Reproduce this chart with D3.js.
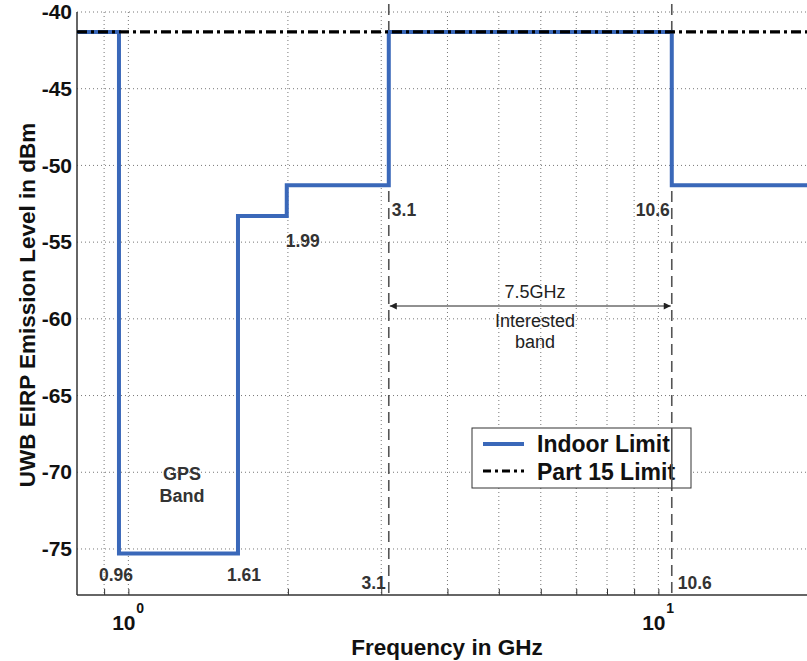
<!DOCTYPE html>
<html>
<head>
<meta charset="utf-8">
<script src="https://cdn.jsdelivr.net/npm/d3@7"></script>
<style>
  body { margin: 0; background: #fff; }
  svg { display: block; }
  text { font-family: "Liberation Sans", Arial, sans-serif; }
</style>
</head>
<body>
<svg id="chart" width="807" height="661"></svg>
<script>
// ---- data ----
const indoorFreq  = [0.8, 0.96, 1.61, 1.99, 3.1, 10.6, 20];
const indoorLevel = [-41.3, -75.3, -53.3, -51.3, -41.3, -51.3, -51.3];
const part15Freq  = [0.8, 20];
const part15Level = [-41.3, -41.3];
const markerFreqs = [3.1, 10.6];
const yTicks = [-40, -45, -50, -55, -60, -65, -70, -75];
const xMinorTicks = [0.8, 0.9, 1, 2, 3, 4, 5, 6, 7, 8, 9, 10, 20];
const xMajorTicks = [1, 10];
const seriesNames = ["Indoor Limit", "Part 15 Limit"];

(function () {
const svg = d3.select("#chart");
const W = 807, H = 661;
const mLeft = 77, mTop = 12, mBottom = 595;
const decade = 530;

const x = d3.scaleLog().domain([0.8, 20])
  .range([mLeft, mLeft + Math.log10(20 / 0.8) * decade]);
const y = d3.scaleLinear().domain([-78, -40]).range([mBottom, mTop]);

const defs = svg.append("defs");
defs.append("clipPath").attr("id", "clip")
  .append("rect").attr("x", mLeft).attr("y", 0).attr("width", W - mLeft).attr("height", mBottom);

const plot = svg.append("g");
// grid
plot.append("g").selectAll("line").data(yTicks).join("line")
  .attr("x1", mLeft).attr("x2", W)
  .attr("y1", d => y(d)).attr("y2", d => y(d))
  .attr("stroke", "#777").attr("stroke-width", 1).attr("stroke-dasharray", "1,3");
plot.append("g").selectAll("line").data(xMinorTicks.filter(d => x(d) > mLeft + 1)).join("line")
  .attr("x1", d => x(d)).attr("x2", d => x(d))
  .attr("y1", mTop).attr("y2", mBottom)
  .attr("stroke", "#777").attr("stroke-width", 1).attr("stroke-dasharray", "1,3");

// axes
const xAxis = d3.axisBottom(x).tickValues(xMinorTicks.filter(d => x(d) > mLeft + 1))
  .tickSize(-6).tickFormat("");
const gx = svg.append("g").attr("transform", `translate(0,${mBottom})`).call(xAxis);
gx.select(".domain").attr("d", `M${mLeft},0H${W}`).attr("stroke", "#333").attr("stroke-width", 1.5);
gx.selectAll(".tick line").attr("stroke", "#333");

const yAxis = d3.axisLeft(y).tickValues(yTicks).tickSize(0).tickPadding(6)
  .tickFormat(d => String(d));
const gy = svg.append("g").attr("transform", `translate(${mLeft},0)`).call(yAxis);
gy.select(".domain").attr("d", `M0,${mTop}V${mBottom}`).attr("stroke", "#333").attr("stroke-width", 1.5);
gy.selectAll(".tick text")
  .attr("font-size", 21).attr("font-weight", "bold").attr("fill", "#111")
  .attr("x", -5);

// x major labels 10^n
xMajorTicks.forEach(v => {
  svg.append("text").attr("x", x(v) - 4.5).attr("y", 630)
    .attr("text-anchor", "middle").attr("font-size", 21).attr("font-weight", "bold").attr("fill", "#111")
    .text("10");
  svg.append("text").attr("x", x(v) + 8).attr("y", 613)
    .attr("font-size", 14).attr("font-weight", "bold").attr("fill", "#111")
    .text(String(Math.round(Math.log10(v))));
});

// dashed markers
svg.append("g").selectAll("line").data(markerFreqs).join("line")
  .attr("x1", d => x(d)).attr("x2", d => x(d))
  .attr("y1", 4).attr("y2", mBottom)
  .attr("stroke", "#555").attr("stroke-width", 1.6).attr("stroke-dasharray", "11,6");

// series
const line = d3.line().x(d => x(d[0])).y(d => y(d[1])).curve(d3.curveStepAfter);
const g = svg.append("g").attr("clip-path", "url(#clip)");
g.append("path").datum(indoorFreq.map((f, i) => [f, indoorLevel[i]]))
  .attr("d", line).attr("fill", "none").attr("stroke", "#3a68b9").attr("stroke-width", 4);
g.append("path").datum(part15Freq.map((f, i) => [f, part15Level[i]]))
  .attr("d", d3.line().x(d => x(d[0])).y(d => y(d[1])))
  .attr("fill", "none").attr("stroke", "#000").attr("stroke-width", 3.2)
  .attr("stroke-dasharray", "10,4,3,4");

// arrow
defs.append("marker").attr("id", "arr").attr("viewBox", "0 0 10 10")
  .attr("refX", 10).attr("refY", 5).attr("markerWidth", 11).attr("markerHeight", 7)
  .attr("markerUnits", "userSpaceOnUse").attr("orient", "auto-start-reverse")
  .append("path").attr("d", "M0,0L10,5L0,10z").attr("fill", "#222");
svg.append("line").attr("x1", x(3.1) + 1).attr("x2", x(10.6) - 1)
  .attr("y1", 306).attr("y2", 306)
  .attr("stroke", "#222").attr("stroke-width", 1)
  .attr("marker-start", "url(#arr)").attr("marker-end", "url(#arr)");

// annotations
function ann(txt, xx, yy, anchor, size, weight, fill) {
  svg.append("text").attr("x", xx).attr("y", yy).attr("text-anchor", anchor)
    .attr("font-size", size).attr("font-weight", weight).attr("fill", fill).text(txt);
}
const ag = "#333";
ann("0.96", 116, 581, "middle", 17.5, "bold", ag);
ann("1.61", 244, 581, "middle", 17.5, "bold", ag);
ann("1.99", x(1.99) - 1, 247, "start", 17.5, "bold", ag);
ann("3.1", x(3.1) + 3, 216, "start", 17.5, "bold", ag);
ann("10.6", x(10.6) - 2, 216, "end", 17.5, "bold", ag);
ann("3.1", x(3.1) - 3, 589, "end", 17.5, "bold", ag);
ann("10.6", x(10.6) + 6, 589, "start", 17.5, "bold", ag);
ann("GPS", 182, 480, "middle", 18, "bold", ag);
ann("Band", 182, 502, "middle", 18, "bold", ag);
ann("7.5GHz", 535, 298, "middle", 18, "normal", "#222");
ann("Interested", 535, 327, "middle", 18, "normal", "#222");
ann("band", 535, 348, "middle", 18, "normal", "#222");

// legend
const lg = svg.append("g");
lg.append("rect").attr("x", 472).attr("y", 428).attr("width", 219).attr("height", 60)
  .attr("fill", "#fff").attr("stroke", "#333").attr("stroke-width", 1);
lg.append("line").attr("x1", 483).attr("x2", 524).attr("y1", 444).attr("y2", 444)
  .attr("stroke", "#3a68b9").attr("stroke-width", 4);
lg.append("line").attr("x1", 483).attr("x2", 524).attr("y1", 471).attr("y2", 471)
  .attr("stroke", "#000").attr("stroke-width", 3.2).attr("stroke-dasharray", "8,4,3,4");
lg.append("text").attr("x", 537).attr("y", 452).attr("font-size", 23).attr("font-weight", "bold")
  .attr("fill", "#111").text(seriesNames[0]);
lg.append("text").attr("x", 537).attr("y", 480).attr("font-size", 23).attr("font-weight", "bold")
  .attr("fill", "#111").text(seriesNames[1]);
// marker line over legend
svg.append("line").attr("x1", x(10.6)).attr("x2", x(10.6)).attr("y1", 428).attr("y2", 488)
  .attr("stroke", "#555").attr("stroke-width", 1.6);

// titles
svg.append("text").attr("x", 447).attr("y", 655).attr("text-anchor", "middle")
  .attr("font-size", 22.5).attr("font-weight", "bold").attr("fill", "#111").text("Frequency in GHz");
svg.append("text").attr("transform", "translate(35,305) rotate(-90)").attr("text-anchor", "middle")
  .attr("font-size", 22.5).attr("font-weight", "bold").attr("fill", "#111")
  .text("UWB EIRP Emission Level in dBm");
})();
</script>
</body>
</html>
